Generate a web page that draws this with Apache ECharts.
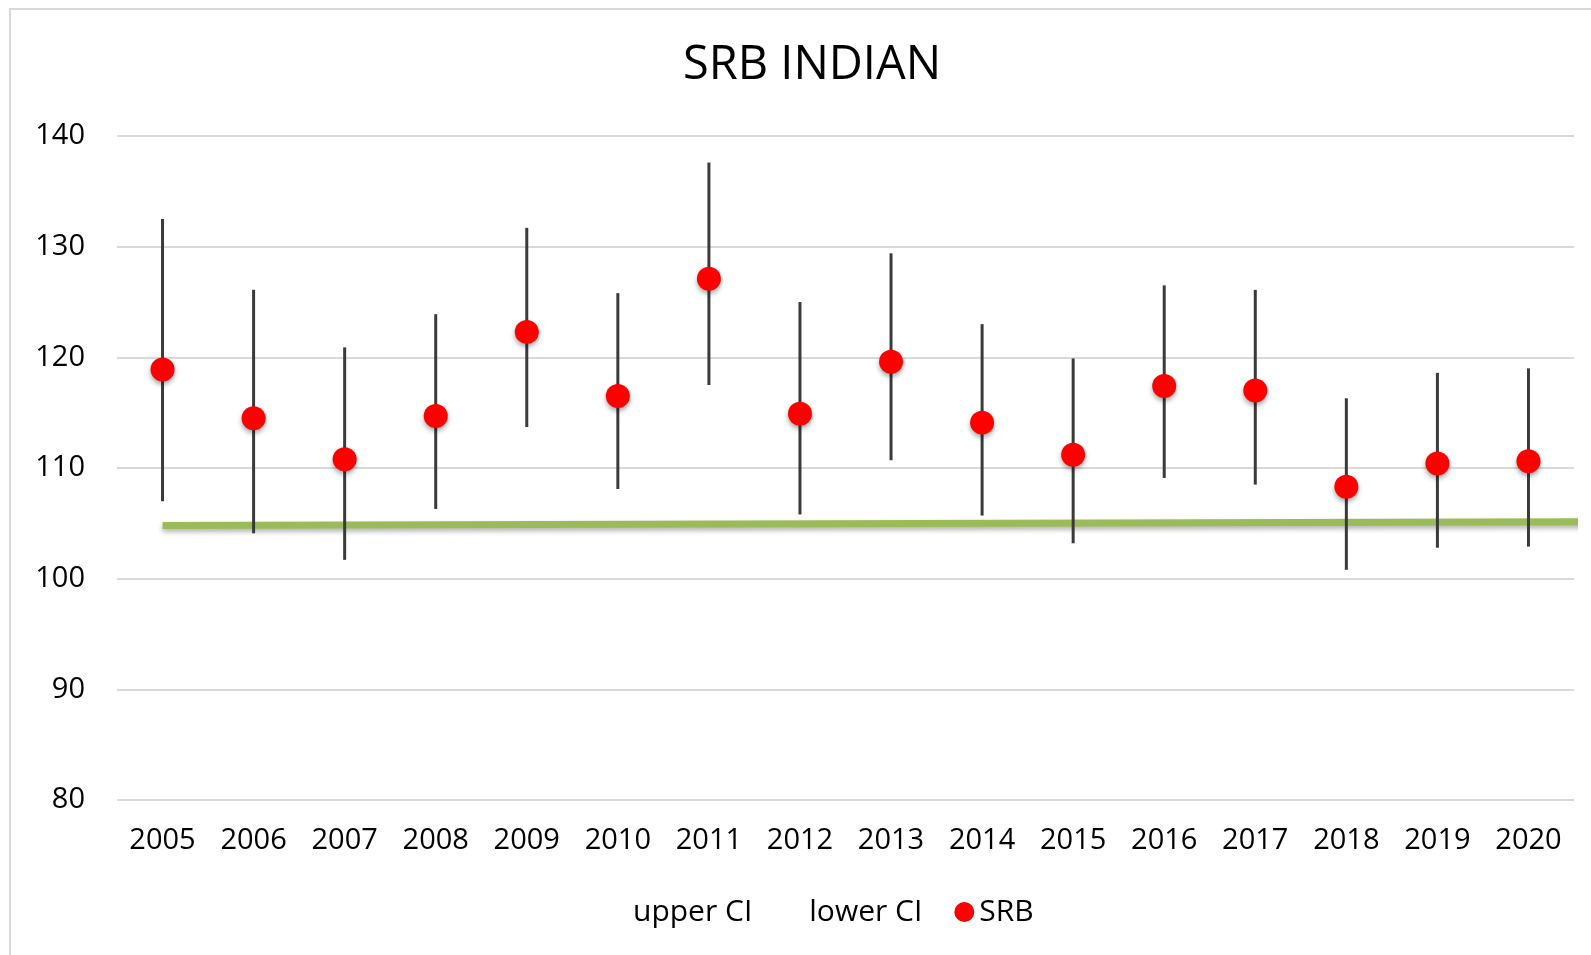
<!DOCTYPE html>
<html>
<head>
    <meta charset="utf-8">
    <title>SRB INDIAN</title>
    <script src="https://cdn.jsdelivr.net/npm/echarts@6/dist/echarts.min.js"></script>
    <style>
        html, body { margin: 0; padding: 0; background: #fff; }
        #chart { width: 1591px; height: 955px; }
    </style>
</head>
<body>
<div id="chart"></div>
<script type="text/javascript">
    // data
    var years = ['2005', '2006', '2007', '2008', '2009', '2010', '2011', '2012',
                 '2013', '2014', '2015', '2016', '2017', '2018', '2019', '2020'];
    var srb = [118.9, 114.5, 110.8, 114.7, 122.3, 116.5, 127.1, 114.9,
               119.6, 114.1, 111.2, 117.4, 117.0, 108.3, 110.4, 110.6];
    var upperCI = [132.5, 126.1, 120.9, 123.9, 131.7, 125.8, 137.6, 125.0,
                   129.4, 123.0, 119.9, 126.5, 126.1, 116.3, 118.6, 119.0];
    var lowerCI = [107.0, 104.1, 101.7, 106.3, 113.7, 108.1, 117.5, 105.8,
                   110.7, 105.7, 103.2, 109.1, 108.5, 100.8, 102.8, 102.9];
    // green reference line (position on category index, value)
    var refX = [0, 15.7];
    var refY = [104.8, 105.15];

    var font = '"Open Sans", "Liberation Sans", sans-serif';
    var chart = echarts.init(document.getElementById('chart'));

    var barData = years.map(function (y, i) { return [i, lowerCI[i], upperCI[i]]; });
    var refData = refX.map(function (x, i) { return [x, refY[i]]; });

    var option = {
        backgroundColor: '#fff',
        animation: false,
        title: {
            text: 'SRB INDIAN',
            left: 807,
            top: 37,
            textAlign: 'center',
            textStyle: { fontFamily: font, fontSize: 47, fontWeight: 'normal', color: '#000' }
        },
        graphic: [{
            type: 'rect',
            shape: { x: 10, y: 9, width: 1620, height: 980 },
            style: { fill: 'none', stroke: '#d9d9d9', lineWidth: 2 },
            silent: true
        }],
        legend: {
            left: 603,
            top: 892,
            itemWidth: 20,
            itemHeight: 20,
            itemGap: 32,
            textStyle: { fontFamily: font, fontSize: 30, color: '#000' },
            data: [
                { name: 'upper CI', icon: 'rect', itemStyle: { opacity: 0 } },
                { name: 'lower CI', icon: 'rect', itemStyle: { opacity: 0 } },
                { name: 'SRB', icon: 'circle', itemStyle: { color: '#ff0000', opacity: 1 } }
            ],
            selectedMode: false
        },
        grid: { left: 117, right: 17, top: 136, bottom: 155 },
        xAxis: [{
            type: 'category',
            data: years,
            boundaryGap: true,
            axisLine: { show: false },
            axisTick: { show: false },
            axisLabel: { fontFamily: font, fontSize: 29, color: '#000', margin: 26 }
        }, {
            type: 'value',
            min: -0.5,
            max: 15.5,
            show: false
        }],
        yAxis: {
            type: 'value',
            min: 80,
            max: 140,
            interval: 10,
            axisLine: { show: false },
            axisTick: { show: false },
            axisLabel: { fontFamily: font, fontSize: 29, color: '#000', margin: 32 },
            splitLine: { lineStyle: { color: '#d9d9d9', width: 2 } }
        },
        series: [{
            name: 'upper CI',
            type: 'line',
            data: upperCI,
            symbol: 'none',
            silent: true,
            lineStyle: { opacity: 0 }
        }, {
            name: 'lower CI',
            type: 'line',
            data: lowerCI,
            symbol: 'none',
            silent: true,
            lineStyle: { opacity: 0 }
        }, {
            name: 'ref',
            type: 'line',
            xAxisIndex: 1,
            data: refData,
            symbol: 'none',
            clip: false,
            z: 1,
            lineStyle: {
                color: '#9bbb59', width: 7,
                shadowColor: 'rgba(0,0,0,0.3)', shadowBlur: 5, shadowOffsetY: 3
            }
        }, {
            name: 'CI',
            type: 'custom',
            data: barData,
            z: 2,
            renderItem: function (params, api) {
                var lo = api.coord([api.value(0), api.value(1)]);
                var hi = api.coord([api.value(0), api.value(2)]);
                return {
                    type: 'line',
                    shape: { x1: lo[0], y1: lo[1], x2: hi[0], y2: hi[1] },
                    style: { stroke: '#3a3a3a', lineWidth: 3 }
                };
            }
        }, {
            name: 'SRB',
            type: 'scatter',
            data: srb,
            symbol: 'circle',
            symbolSize: 24,
            z: 3,
            itemStyle: {
                color: '#ff0000',
                opacity: 1,
                shadowColor: 'rgba(0,0,0,0.35)', shadowBlur: 5, shadowOffsetY: 3
            }
        }]
    };

    chart.setOption(option);
</script>
</body>
</html>
